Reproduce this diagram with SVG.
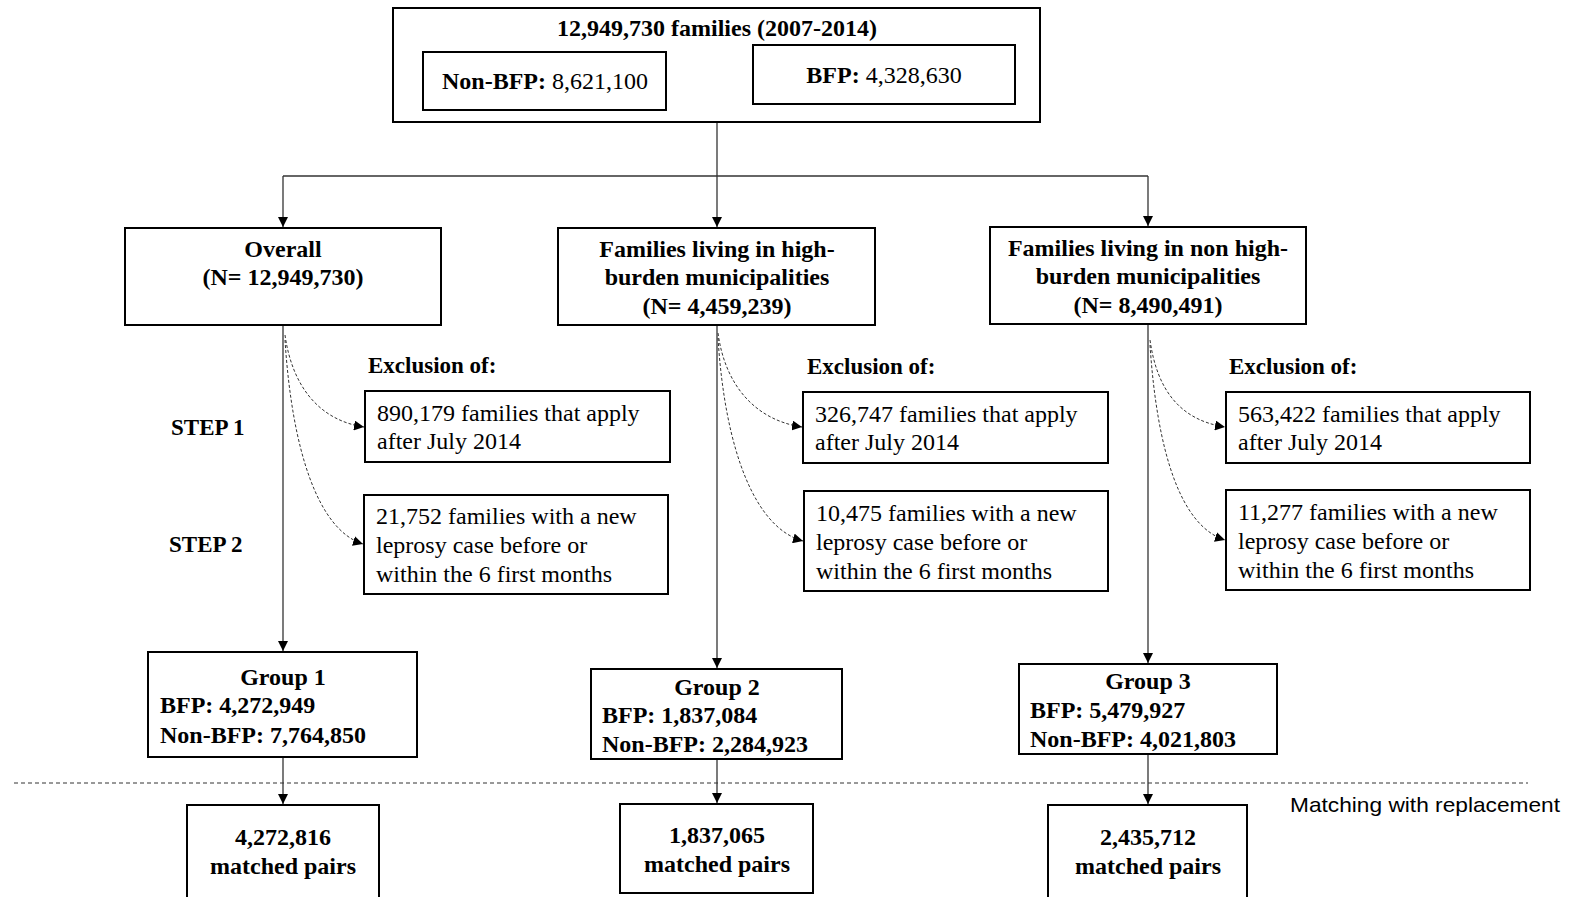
<svg xmlns="http://www.w3.org/2000/svg" width="1572" height="897" viewBox="0 0 1572 897">
<defs>
<marker id="arr" viewBox="0 0 10 10" refX="10" refY="5" markerWidth="10" markerHeight="10" markerUnits="userSpaceOnUse" orient="auto">
<path d="M0,0 L10,5 L0,10 Z" fill="#000"/>
</marker>
<style>
.box{fill:#fff;stroke:#000;stroke-width:2}
.t{font-family:"Liberation Serif","Times New Roman",serif;font-size:24px;fill:#000}
.b{font-weight:bold}
.c{text-anchor:middle}
.ln{fill:none;stroke:#333;stroke-width:1.3}
.dc{fill:none;stroke:#333;stroke-width:1;stroke-dasharray:3,2}
</style>
</defs>
<rect width="1572" height="897" fill="#fff"/>

<g id="connectors">
<line class="ln" x1="717" y1="122" x2="717" y2="176"/>
<line class="ln" x1="283" y1="176" x2="1148" y2="176"/>
<line class="ln" x1="283" y1="176" x2="283" y2="227" marker-end="url(#arr)"/>
<line class="ln" x1="717" y1="176" x2="717" y2="227" marker-end="url(#arr)"/>
<line class="ln" x1="1148" y1="176" x2="1148" y2="226" marker-end="url(#arr)"/>
<line class="ln" x1="283" y1="325" x2="283" y2="651" marker-end="url(#arr)"/>
<line class="ln" x1="717" y1="325" x2="717" y2="668" marker-end="url(#arr)"/>
<line class="ln" x1="1148" y1="324" x2="1148" y2="663" marker-end="url(#arr)"/>
<path class="dc" d="M285,335 C292,385 318,420 364,427" marker-end="url(#arr)"/>
<path class="dc" d="M285,340 C292,450 318,530 363,544" marker-end="url(#arr)"/>
<path class="dc" d="M718,333 C725,385 755,420 802,427" marker-end="url(#arr)"/>
<path class="dc" d="M718,338 C725,450 755,528 803,541" marker-end="url(#arr)"/>
<path class="dc" d="M1150,340 C1157,390 1180,420 1225,427" marker-end="url(#arr)"/>
<path class="dc" d="M1150,345 C1157,450 1180,526 1225,540" marker-end="url(#arr)"/>
<line class="ln" x1="283" y1="757" x2="283" y2="804" marker-end="url(#arr)"/>
<line class="ln" x1="717" y1="759" x2="717" y2="803" marker-end="url(#arr)"/>
<line class="ln" x1="1148" y1="754" x2="1148" y2="804" marker-end="url(#arr)"/>
<line x1="14" y1="783" x2="1528" y2="783" stroke="#333" stroke-width="1" stroke-dasharray="4,3"/>
</g>

<g id="top">
<rect class="box" x="393" y="8" width="647" height="114"/>
<text class="t b c" x="717" y="36">12,949,730 families (2007-2014)</text>
<rect class="box" x="423" y="52" width="243" height="58"/>
<text class="t c" x="545" y="89"><tspan class="b">Non-BFP:</tspan> 8,621,100</text>
<rect class="box" x="753" y="45" width="262" height="59"/>
<text class="t c" x="884" y="83"><tspan class="b">BFP:</tspan> 4,328,630</text>
</g>

<g id="overall">
<rect class="box" x="125" y="228" width="316" height="97"/>
<text class="t b c" x="283" y="257">Overall</text>
<text class="t b c" x="283" y="285">(N= 12,949,730)</text>
</g>
<g id="high">
<rect class="box" x="558" y="228" width="317" height="97"/>
<text class="t b c" x="717" y="257">Families living in high-</text>
<text class="t b c" x="717" y="285">burden municipalities</text>
<text class="t b c" x="717" y="314">(N= 4,459,239)</text>
</g>
<g id="nonhigh">
<rect class="box" x="990" y="227" width="316" height="97"/>
<text class="t b c" x="1148" y="256">Families living in non high-</text>
<text class="t b c" x="1148" y="284">burden municipalities</text>
<text class="t b c" x="1148" y="313">(N= 8,490,491)</text>
</g>

<g id="labels">
<text class="t b" x="368" y="373" style="font-size:23px">Exclusion of:</text>
<text class="t b" x="807" y="374" style="font-size:23px">Exclusion of:</text>
<text class="t b" x="1229" y="374" style="font-size:23px">Exclusion of:</text>
<text class="t b" x="171" y="435" style="font-size:23px">STEP 1</text>
<text class="t b" x="169" y="552" style="font-size:23px">STEP 2</text>
</g>

<g id="excl1a">
<rect class="box" x="365" y="391" width="305" height="71"/>
<text class="t" x="377" y="421">890,179 families that apply</text>
<text class="t" x="377" y="449">after July 2014</text>
</g>
<g id="excl1b">
<rect class="box" x="364" y="495" width="304" height="99"/>
<text class="t" x="376" y="524">21,752 families with a new</text>
<text class="t" x="376" y="553">leprosy case before or</text>
<text class="t" x="376" y="582">within the 6 first months</text>
</g>
<g id="excl2a">
<rect class="box" x="803" y="392" width="305" height="71"/>
<text class="t" x="815" y="422">326,747 families that apply</text>
<text class="t" x="815" y="450">after July 2014</text>
</g>
<g id="excl2b">
<rect class="box" x="804" y="491" width="304" height="100"/>
<text class="t" x="816" y="521">10,475 families with a new</text>
<text class="t" x="816" y="550">leprosy case before or</text>
<text class="t" x="816" y="579">within the 6 first months</text>
</g>
<g id="excl3a">
<rect class="box" x="1226" y="392" width="304" height="71"/>
<text class="t" x="1238" y="422">563,422 families that apply</text>
<text class="t" x="1238" y="450">after July 2014</text>
</g>
<g id="excl3b">
<rect class="box" x="1226" y="490" width="304" height="100"/>
<text class="t" x="1238" y="520">11,277 families with a new</text>
<text class="t" x="1238" y="549">leprosy case before or</text>
<text class="t" x="1238" y="578">within the 6 first months</text>
</g>

<g id="group1">
<rect class="box" x="148" y="652" width="269" height="105"/>
<text class="t b c" x="283" y="685">Group 1</text>
<text class="t b" x="160" y="713">BFP: 4,272,949</text>
<text class="t b" x="160" y="743">Non-BFP: 7,764,850</text>
</g>
<g id="group2">
<rect class="box" x="591" y="669" width="251" height="90"/>
<text class="t b c" x="717" y="695">Group 2</text>
<text class="t b" x="602" y="723">BFP: 1,837,084</text>
<text class="t b" x="602" y="752">Non-BFP: 2,284,923</text>
</g>
<g id="group3">
<rect class="box" x="1019" y="664" width="258" height="90"/>
<text class="t b c" x="1148" y="689">Group 3</text>
<text class="t b" x="1030" y="718">BFP: 5,479,927</text>
<text class="t b" x="1030" y="747">Non-BFP: 4,021,803</text>
</g>

<g id="matched1">
<rect class="box" x="187" y="805" width="192" height="100"/>
<text class="t b c" x="283" y="845">4,272,816</text>
<text class="t b c" x="283" y="874">matched pairs</text>
</g>
<g id="matched2">
<rect class="box" x="620" y="804" width="193" height="89"/>
<text class="t b c" x="717" y="843">1,837,065</text>
<text class="t b c" x="717" y="872">matched pairs</text>
</g>
<g id="matched3">
<rect class="box" x="1048" y="805" width="199" height="100"/>
<text class="t b c" x="1148" y="845">2,435,712</text>
<text class="t b c" x="1148" y="874">matched pairs</text>
</g>

<text x="1290" y="812" font-family="'Liberation Sans', Arial, sans-serif" font-size="21" textLength="270" lengthAdjust="spacingAndGlyphs" fill="#000">Matching with replacement</text>
</svg>
